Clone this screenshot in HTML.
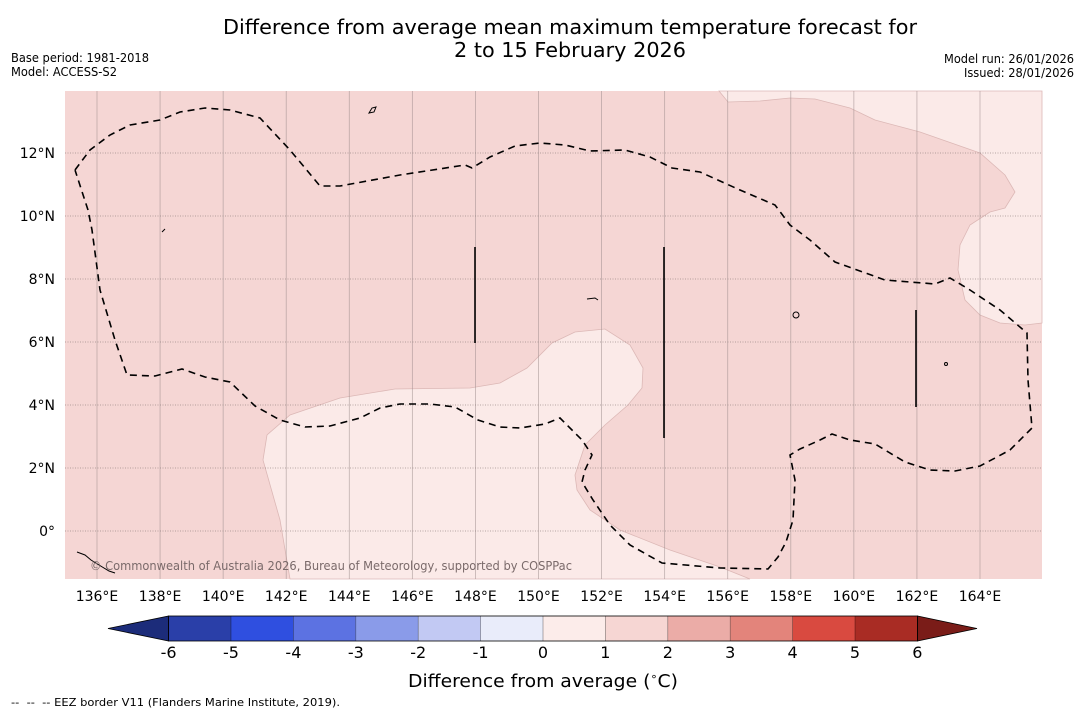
<!DOCTYPE html>
<html><head><meta charset="utf-8"><style>
body{margin:0;background:#fff;width:1085px;height:713px;overflow:hidden;font-family:"Liberation Sans","DejaVu Sans",sans-serif}
svg text{font-family:"DejaVu Sans","Liberation Sans",sans-serif}
</style></head><body>
<svg id="chart" width="1085" height="713" viewBox="0 0 1085 713" xmlns="http://www.w3.org/2000/svg">
<text x="570" y="34" font-size="20" text-anchor="middle" textLength="694" lengthAdjust="spacingAndGlyphs">Difference from average mean maximum temperature forecast for</text>
<text x="570" y="57" font-size="20" text-anchor="middle" textLength="232" lengthAdjust="spacingAndGlyphs">2 to 15 February 2026</text>
<text x="11" y="62" font-size="12" textLength="138" lengthAdjust="spacingAndGlyphs">Base period: 1981-2018</text>
<text x="11" y="76" font-size="12" textLength="106" lengthAdjust="spacingAndGlyphs">Model: ACCESS-S2</text>
<text x="1074" y="63" font-size="12" text-anchor="end" textLength="130" lengthAdjust="spacingAndGlyphs">Model run: 26/01/2026</text>
<text x="1074" y="77" font-size="12" text-anchor="end" textLength="110" lengthAdjust="spacingAndGlyphs">Issued: 28/01/2026</text>
<g id="map">
<rect x="65" y="91" width="977" height="488" fill="#f5d6d4"/>
<polygon fill="#fbeae8" stroke="#dcb8b6" stroke-width="0.8" points="290,579 280,520 263,460 267,435 290,415 340,398 395,389 470,388 500,383 527,368 552,343 575,332 605,329 630,345 643,368 642,388 628,405 605,425 585,445 575,475 577,490 590,510 620,530 670,550 720,567 750,579"/>
<polygon fill="#fbeae8" stroke="#dcb8b6" stroke-width="0.8" points="719,91 728,102 760,101 790,98 815,99 850,108 875,120 920,132 980,153 1005,175 1015,192 1005,208 990,212 970,225 960,245 958,270 965,300 980,315 1000,323 1025,325 1042,323 1042,91"/>
<g id="grid"></g>
<polyline fill="none" stroke="#000" stroke-width="1.6" stroke-dasharray="7,5" points="75,170 90,150 110,135 130,125 160,120 180,112 205,108 230,110 260,118 290,150 320,186 340,186 400,175 465,165 472,168 490,157 515,146 540,143 565,145 590,151 625,150 650,157 672,168 700,172 740,190 775,205 790,225 810,240 835,262 885,280 935,284 950,278 970,290 1000,310 1027,333 1028,380 1032,428 1010,450 980,466 955,471 930,470 905,462 875,444 850,440 832,434 820,440 800,449 790,455 795,480 793,520 786,542 778,557 768,569 720,568 662,563 630,545 610,525 593,500 582,482 585,470 592,455 582,440 560,418 545,424 520,428 500,427 478,420 455,407 430,404 400,404 380,408 360,418 330,426 305,427 280,420 255,406 230,382 205,377 182,369 155,376 127,375 115,340 100,290 92,230 88,210 75,170"/>
<line x1="475" y1="247" x2="475" y2="343" stroke="#000" stroke-width="1.6"/>
<line x1="664" y1="247" x2="664" y2="438" stroke="#000" stroke-width="1.6"/>
<line x1="916" y1="310" x2="916" y2="407" stroke="#000" stroke-width="1.6"/>
<g fill="none" stroke="#000" stroke-width="1">
<path d="M369,113 l3,-5 l4,-1 l-2,5 z"/><circle cx="796" cy="315" r="3"/><circle cx="946" cy="364" r="1.5"/>
<path d="M587,299 l8,-1 l3,2"/><path d="M162,232 l3,-3"/><path d="M77,552 l8,3 l6,5 l8,5 l10,6 l6,2"/>
</g>
<text x="90" y="570" font-size="12" fill="#7a6a6a" textLength="482" lengthAdjust="spacingAndGlyphs">© Commonwealth of Australia 2026, Bureau of Meteorology, supported by COSPPac</text>
</g>
<g id="xaxis"></g>
<g id="yaxis"></g>
<g id="cbar"></g>
<text x="543" y="687" font-size="18" text-anchor="middle" textLength="270" lengthAdjust="spacingAndGlyphs">Difference from average (<tspan font-size="11" dy="-7">∘</tspan><tspan dy="7">C)</tspan></text>
<text x="11" y="706" font-size="11" textLength="329" lengthAdjust="spacingAndGlyphs" xml:space="preserve">--  --  -- EEZ border V11 (Flanders Marine Institute, 2019).</text>
</svg>
<script>
const lonTicks=[136,138,140,142,144,146,148,150,152,154,156,158,160,162,164];
const latTicks=[0,2,4,6,8,10,12];
const cbarBounds=[-6,-5,-4,-3,-2,-1,0,1,2,3,4,5,6];
const cbarColors=["#2a3fa8","#2f4fe0","#5c72e2","#8a9be9","#c2c9f3","#e9ecfa","#fcecea","#f6d6d3","#ebaca7","#e3847b","#d94a40","#a92c24"];
const NS="http://www.w3.org/2000/svg";
const X0=65,X1=1042,Y0=91,Y1=579;
function xLon(l){return 97+(l-136)*(980-97)/28;}
function yLat(l){return 531-l*31.5;}
function cx(v){return 543+v*62.4;}
function mk(tag,attrs,parent){const e=document.createElementNS(NS,tag);for(const k in attrs)e.setAttribute(k,attrs[k]);parent.appendChild(e);return e;}
const grid=document.getElementById('grid'),xa=document.getElementById('xaxis'),ya=document.getElementById('yaxis'),cb=document.getElementById('cbar');
lonTicks.forEach(l=>{const x=xLon(l);
 const g=mk('line',{x1:x,y1:Y0,x2:x,y2:Y1,stroke:'#9a8888','stroke-width':0.8,'stroke-opacity':0.6},grid);
 
 
 const t=mk('text',{x:x,y:601,'font-size':14,'text-anchor':'middle'},xa);t.textContent=l+'°E';
 
 
});
latTicks.forEach(l=>{const y=yLat(l);
 const g=mk('line',{x1:X0,y1:y,x2:X1,y2:y,stroke:'#8a7878','stroke-width':0.8,'stroke-dasharray':'1,1.5','stroke-opacity':0.8},grid);
 
 
 const t=mk('text',{x:55,y:y+5,'font-size':14,'text-anchor':'end'},ya);t.textContent=(l===0?'0°':l+'°N');
 
 
});
const cy0=616,cy1=641;
const lt=mk('polygon',{points:`108,${(cy0+cy1)/2} ${cx(cbarBounds[0])},${cy0} ${cx(cbarBounds[0])},${cy1}`,fill:'#1c2c7a',stroke:'#000','stroke-width':0.8},cb);


const last=cbarBounds[cbarBounds.length-1];
const rt=mk('polygon',{points:`977,${(cy0+cy1)/2} ${cx(last)},${cy0} ${cx(last)},${cy1}`,fill:'#7a1c18',stroke:'#000','stroke-width':0.8},cb);


cbarColors.forEach((c,i)=>{const a=cx(cbarBounds[i]),b=cx(cbarBounds[i+1]);
 const r=mk('rect',{x:a,y:cy0,width:b-a,height:cy1-cy0,fill:c},cb);
 
 
});
mk('rect',{x:cx(cbarBounds[0]),y:cy0,width:cx(last)-cx(cbarBounds[0]),height:cy1-cy0,fill:'none',stroke:'#000','stroke-width':0.8},cb);
cbarBounds.forEach(v=>{const x=cx(v);
 mk('line',{x1:x,y1:cy0,x2:x,y2:cy1,stroke:'#000','stroke-width':0.6,'stroke-opacity':0.5},cb);
 const t=mk('text',{x:x,y:658,'font-size':16,'text-anchor':'middle'},cb);t.textContent=v;
 
 
});
</script>
</body></html>
